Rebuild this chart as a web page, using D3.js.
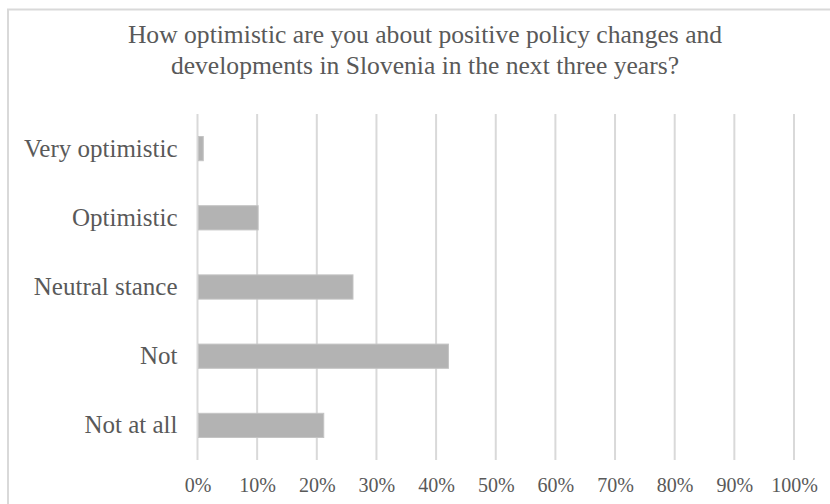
<!DOCTYPE html>
<html>
<head>
<meta charset="utf-8">
<script src="https://cdn.jsdelivr.net/npm/d3@7"></script>
<style>
  body { margin: 0; background: #fff; }
  svg text { font-family: "Liberation Serif", "Times New Roman", serif; fill: #595959; }
</style>
</head>
<body>
<div id="chart"></div>
<script>
const categories = ["Very optimistic", "Optimistic", "Neutral stance", "Not", "Not at all"];
const shares = [0.8, 10, 25.9, 41.9, 21];
const tickValues = [0, 10, 20, 30, 40, 50, 60, 70, 80, 90, 100];
const titleLines = ["How optimistic are you about positive policy changes and",
                    "developments in Slovenia in the next three years?"];

const width = 830, height = 504;
const margin = {top: 114, right: 36, bottom: 44, left: 197.5};

const svg = d3.select("#chart").append("svg")
    .attr("width", width)
    .attr("height", height);

// chart frame
svg.append("rect")
    .attr("x", 8).attr("y", 9.5)
    .attr("width", width).attr("height", height)
    .attr("fill", "none")
    .attr("stroke", "#d9d9d9")
    .attr("stroke-width", 2);

svg.selectAll(".title")
    .data(titleLines)
  .enter().append("text")
    .attr("class", "title")
    .attr("x", 425)
    .attr("y", (d, i) => 43 + i * 31)
    .attr("text-anchor", "middle")
    .style("font-size", "25.6px")
    .text(d => d);

const x = d3.scaleLinear()
    .domain([0, 100])
    .range([margin.left, width - margin.right]);

const y = d3.scaleBand()
    .domain(categories)
    .range([margin.top, height - margin.bottom])
    .paddingInner(0.65)
    .paddingOuter(0.325);

// gridlines
svg.append("g")
  .selectAll("line")
    .data(tickValues)
  .enter().append("line")
    .attr("x1", d => x(d)).attr("x2", d => x(d))
    .attr("y1", margin.top).attr("y2", height - margin.bottom)
    .attr("stroke", "#d9d9d9")
    .attr("stroke-width", 2);

svg.append("g")
  .selectAll("rect")
    .data(categories)
  .enter().append("rect")
    .attr("x", x(0) + 1)
    .attr("y", d => y(d))
    .attr("width", (d, i) => x(shares[i]) - x(0))
    .attr("height", y.bandwidth())
    .attr("fill", "#b3b3b3")
    .attr("stroke", "#c4c4c4")
    .attr("stroke-width", 1);

// x axis labels
const xAxis = svg.append("g")
    .attr("transform", `translate(0,${height - margin.bottom})`)
    .call(d3.axisBottom(x).tickValues(tickValues).tickSize(0).tickPadding(18).tickFormat(d => d + "%"));
xAxis.select(".domain").remove();
xAxis.selectAll("text")
    .style("font-family", '"Liberation Serif", "Times New Roman", serif')
    .style("font-size", "20px")
    .attr("fill", "#595959");

// y axis labels
const yAxis = svg.append("g")
    .attr("transform", `translate(${margin.left},0)`)
    .call(d3.axisLeft(y).tickSize(0).tickPadding(20));
yAxis.select(".domain").remove();
yAxis.selectAll("text")
    .style("font-family", '"Liberation Serif", "Times New Roman", serif')
    .style("font-size", "25px")
    .attr("fill", "#595959");
</script>
</body>
</html>
